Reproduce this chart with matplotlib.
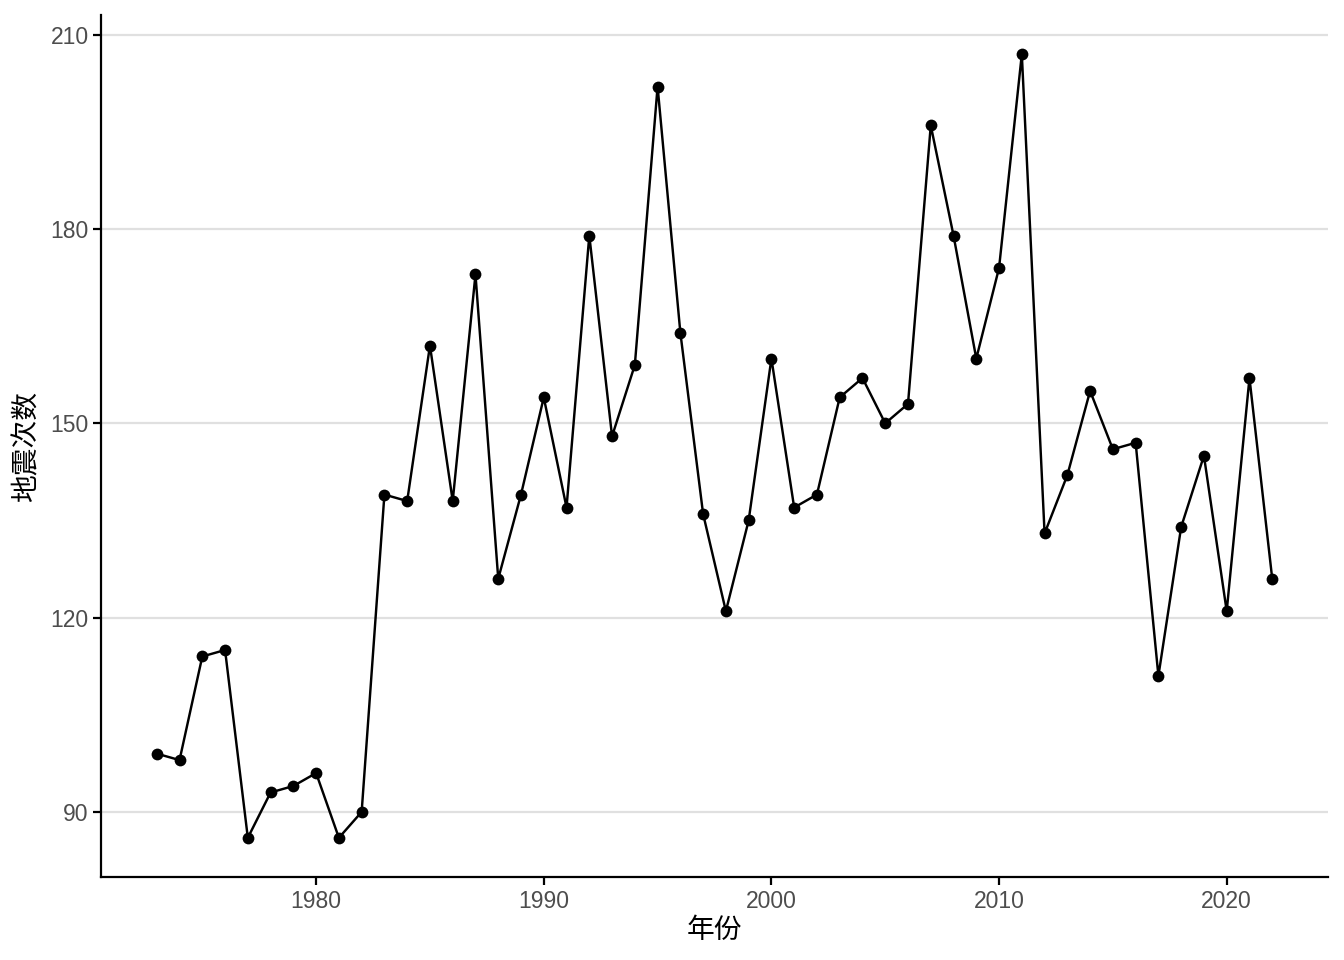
import matplotlib
matplotlib.use("Agg")
import matplotlib.pyplot as plt

plt.rcParams['font.family'] = ['Liberation Sans', 'Noto Sans CJK SC', 'DejaVu Sans']

years = list(range(1973, 2023))
counts = [99, 98, 114, 115, 86, 93, 94, 96, 86, 90,
          139, 138, 162, 138, 173, 126, 139, 154, 137, 179,
          148, 159, 202, 164, 136, 121, 135, 160, 137, 139,
          154, 157, 150, 153, 196, 179, 160, 174, 207, 133,
          142, 155, 146, 147, 111, 134, 145, 121, 157, 126]
yticks = [90, 120, 150, 180, 210]
xticks = [1980, 1990, 2000, 2010, 2020]

fig = plt.figure(figsize=(13.44, 9.6), dpi=100)
ax = fig.add_axes([101 / 1344, 83 / 960, 1227 / 1344, 862 / 960])

ax.plot(years, counts, color='black', lw=1.75, zorder=3)
ax.scatter(years, counts, color='black', s=72, zorder=4, linewidths=0)

span = max(counts) - min(counts)
ax.set_ylim(min(counts) - 0.05 * span, max(counts) + 0.05 * span)
xspan = years[-1] - years[0]
ax.set_xlim(years[0] - 0.05 * xspan, years[-1] + 0.05 * xspan)

ax.set_yticks(yticks)
ax.set_xticks(xticks)
ax.yaxis.grid(True, color='#e0e0e0', lw=1.6, zorder=0)
ax.set_axisbelow(True)

for s in ['top', 'right']:
    ax.spines[s].set_visible(False)
for s in ['left', 'bottom']:
    ax.spines[s].set_linewidth(1.6)
    ax.spines[s].set_color('black')

ax.tick_params(axis='both', length=6, width=1.6, color='black',
               labelcolor='#4d4d4d', labelsize=16.5, pad=3)

ax.set_xlabel('年份', fontsize=20, family=['Noto Sans CJK SC', 'DejaVu Sans'], labelpad=2)
ax.set_ylabel('地震次数', fontsize=20, family=['Noto Sans CJK SC', 'DejaVu Sans'], labelpad=6)

fig.savefig('out.png', dpi=100)
